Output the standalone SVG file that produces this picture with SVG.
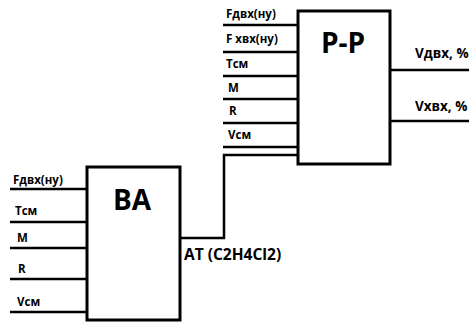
<svg xmlns="http://www.w3.org/2000/svg" width="469" height="322" viewBox="0 0 469 322">
<style>
.box{fill:#fff;stroke:#000;stroke-width:3}
.ln{stroke:#000;stroke-width:2.5;fill:none}
.lb{font-family:"Open Sans","DejaVu Sans",sans-serif;font-weight:bold;font-size:11.5px;fill:#000}
.lb2{font-family:"Open Sans","DejaVu Sans",sans-serif;font-weight:bold;font-size:13.5px;fill:#000}
.lb3{font-family:"Open Sans","DejaVu Sans",sans-serif;font-weight:bold;font-size:15.5px;fill:#000}
.tt{font-family:"Open Sans","DejaVu Sans",sans-serif;font-weight:bold;font-size:28px;fill:#000;text-anchor:middle}
</style>
<rect width="469" height="322" fill="#fff"/>
<g id="connectors">
<path class="ln" d="M10 189H87M10 222H87M10 248H87M10 279H87M10 312H87"/>
<path class="ln" d="M223 25H298M223 52H298M223 76H298M223 99H298M223 123H298M223 147H298"/>
<path class="ln" d="M180 238H224V155H298"/>
<path class="ln" d="M390 70H469M390 121H469"/>
</g>
<g id="BA">
<rect class="box" x="87" y="167" width="93" height="153"/>
<text class="tt" x="132" y="210">BA</text>
</g>
<g id="PP">
<rect class="box" x="298" y="11" width="92" height="153"/>
<text class="tt" x="343" y="53">P-P</text>
</g>
<g id="labels">
<text class="lb" x="13" y="184">Fдвх(ну)</text>
<text class="lb" x="15" y="215">Tсм</text>
<text class="lb" x="17" y="242">M</text>
<text class="lb" x="18" y="273">R</text>
<text class="lb" x="17" y="306">Vсм</text>
<text class="lb" x="226" y="18">Fдвх(ну)</text>
<text class="lb" x="226" y="43">F хвх(ну)</text>
<text class="lb" x="226" y="68">Tсм</text>
<text class="lb" x="228" y="92">M</text>
<text class="lb" x="229" y="115">R</text>
<text class="lb" x="228" y="139">Vсм</text>
<text class="lb2" x="415" y="58">Vдвх, %</text>
<text class="lb2" x="415" y="111">Vхвх, %</text>
<text class="lb3" x="184" y="260">AT (C2H4Cl2)</text>
</g>
</svg>
